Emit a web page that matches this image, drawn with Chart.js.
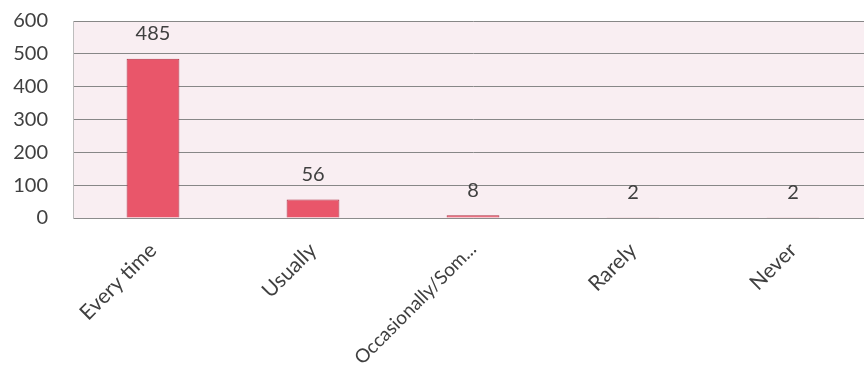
<!DOCTYPE html>
<html>
<head>
<meta charset="utf-8">
<script src="https://cdn.jsdelivr.net/npm/chart.js@4/dist/chart.umd.min.js"></script>
<style>
  html, body { margin: 0; padding: 0; background: #fff; overflow: hidden; }
  #wrap { width: 880px; height: 367px; }
</style>
</head>
<body>
<div id="wrap"><canvas id="freqChart" width="880" height="367"></canvas></div>
<script>
// data
const categories = ['Every time', 'Usually', 'Occasionally/Som...', 'Rarely', 'Never'];
const counts = [485, 56, 8, 2, 2];
const yTicks = [0, 100, 200, 300, 400, 500, 600];

// pink plot background
const plotBg = {
    id: 'plotBg',
    beforeDraw(chart) {
        const a = chart.chartArea;
        const ctx = chart.ctx;
        ctx.save();
        ctx.fillStyle = '#f9eef2';
        ctx.fillRect(a.left, a.top, a.right - a.left, a.bottom - a.top);
        ctx.restore();
    }
};

// value labels over the bars
const valueLabels = {
    id: 'valueLabels',
    afterDatasetsDraw(chart) {
        const ctx = chart.ctx;
        const meta = chart.getDatasetMeta(0);
        ctx.save();
        ctx.font = '20px Lato';
        ctx.fillStyle = '#404040';
        ctx.textAlign = 'center';
        ctx.textBaseline = 'middle';
        meta.data.forEach((bar, i) => {
            ctx.fillText(String(counts[i]), bar.x, bar.y - 25);
        });
        ctx.restore();
    }
};

const ctx = document.getElementById('freqChart').getContext('2d');
new Chart(ctx, {
    type: 'bar',
    data: {
        labels: categories,
        datasets: [{
            data: counts,
            backgroundColor: '#e9566a',
            borderColor: '#b03246',
            borderWidth: 1,
            categoryPercentage: 1,
            barPercentage: 0.33
        }]
    },
    options: {
        responsive: false,
        animation: false,
        layout: { padding: { top: 0, right: 7, left: 0, bottom: 0 } },
        plugins: {
            legend: { display: false },
            tooltip: { enabled: false }
        },
        scales: {
            x: {
                grid: { display: false },
                border: { display: true, color: '#8c8c8c' },
                ticks: {
                    color: '#404040',
                    // the long label is a bit smaller so it fits the bottom edge
                    font: (c) => ({ family: 'Lato', size: c.index === 2 ? 19 : 21 }),
                    maxRotation: 45,
                    minRotation: 45,
                    padding: 12,
                    autoSkip: false
                },
                afterFit(scale) { scale.height = 149; }
            },
            y: {
                min: 0,
                max: 600,
                afterBuildTicks(scale) { scale.ticks = yTicks.map(v => ({ value: v })); },
                grid: { color: '#878787', lineWidth: 1, drawTicks: true, tickLength: 16, tickColor: 'rgba(0,0,0,0)' },
                border: { display: true, color: '#bdbdbd' },
                ticks: {
                    color: '#404040',
                    font: { family: 'Lato', size: 20 },
                    padding: 9
                },
                afterFit(scale) { scale.width = 73; }
            }
        }
    },
    plugins: [plotBg, valueLabels]
});
</script>
</body>
</html>
